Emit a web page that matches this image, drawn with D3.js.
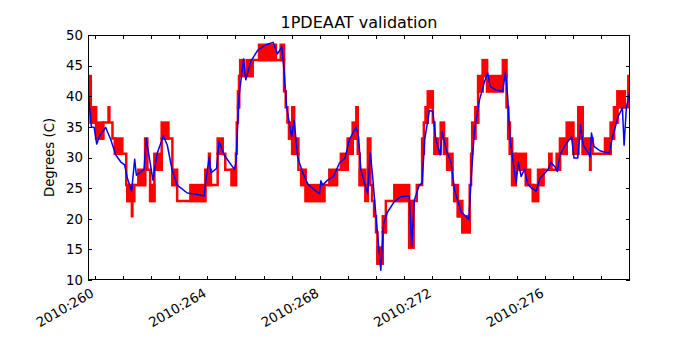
<!DOCTYPE html>
<html>
<head>
<meta charset="utf-8">
<script src="https://cdn.jsdelivr.net/npm/d3@7"></script>
<style>
  body { margin: 0; background: #fff; }
  text { font-family: "DejaVu Sans", sans-serif; }
</style>
</head>
<body>
<div id="chartDiv"></div>
<script>
// ---- data ----
const xDomain = [259.76, 279.03];          // day of year 2010
const yTicks = [10, 15, 20, 25, 30, 35, 40, 45, 50];
const xTickDays = [260,261,262,263,264,265,266,267,268,269,270,271,272,273,274,275,276,277,278];
const xLabelDays = [260, 264, 268, 272, 276];

// model prediction (blue)
const blueDay = [259.76,259.88,259.98,260.07,260.19,260.39,260.57,260.75,260.92,261.06,261.16,261.31,261.42,261.48,261.69,261.75,261.83,262.07,262.22,262.44,262.58,262.75,262.93,263.29,263.60,263.89,263.93,264.07,264.13,264.33,264.42,264.60,264.96,265.02,265.13,265.29,265.37,265.55,265.79,266.08,266.34,266.50,266.65,266.73,266.82,267.00,267.09,267.21,267.38,267.57,267.81,267.99,268.04,268.10,268.28,268.49,268.70,268.90,269.05,269.29,269.38,269.46,269.70,269.80,269.88,270.00,270.17,270.27,270.41,270.65,270.88,271.18,271.27,271.36,271.54,271.64,271.73,271.90,272.02,272.12,272.28,272.35,272.50,272.67,272.79,273.03,273.30,273.38,273.50,273.68,273.86,273.97,274.06,274.27,274.50,274.60,274.68,274.77,274.98,275.06,275.16,275.28,275.39,275.53,275.69,275.83,276.13,276.21,276.36,276.45,276.54,276.72,276.95,277.04,277.17,277.27,277.37,277.55,277.61,277.66,277.75,277.96,278.29,278.41,278.61,278.76,278.82,278.90,279.03];
const blueDeg = [41.0,35.0,34.9,32.2,33.7,34.9,32.9,30.4,29.3,28.8,26.6,24.5,29.7,27.1,27.8,28.0,33.1,26.3,30.7,33.5,32.0,28.0,25.5,24.2,24.0,23.7,25.5,30.1,27.5,28.2,32.6,30.4,28.1,29.1,40.0,46.1,42.7,45.7,47.5,48.4,48.8,46.9,48.1,44.3,38.3,33.4,36.1,30.1,27.7,25.7,24.7,24.1,26.2,25.5,26.3,26.9,29.1,29.9,32.9,35.0,33.4,28.0,24.1,30.7,26.9,20.3,11.6,19.2,21.1,22.8,23.6,23.7,15.4,23.0,25.5,25.8,32.9,37.7,37.5,33.1,30.4,34.2,31.2,29.1,24.7,21.1,19.9,26.3,34.5,39.4,42.4,43.8,41.6,41.0,40.8,43.9,40.0,32.9,25.8,29.3,26.9,28.1,25.7,25.0,24.5,26.6,28.1,29.2,28.5,27.7,30.4,32.0,33.4,29.9,29.9,35.3,32.0,30.7,30.1,34.0,31.8,31.1,30.7,33.4,36.7,38.1,32.0,38.1,41.0];

// telemetry (red): [start day, low level, high level] - high > low where the value flickers
const redSteps = [
  [259.76,38.2,43.3],[259.86,35.7,38.2],[260.05,33.1,35.7],[260.30,35.7],[260.49,38.2],[260.52,35.7],
  [260.63,33.1],[260.72,30.6,33.1],[260.98,30.6],[261.12,25.5],[261.16,22.9,25.5],[261.32,20.4],
  [261.34,22.9,25.5],[261.40,25.5],[261.55,25.5,28.0],[261.79,28.0,33.1],[261.87,28.0],[261.97,22.9,25.5],
  [262.12,28.0,30.6],[262.38,33.1,35.7],[262.62,33.1],[262.76,25.5,28.0],[262.93,22.9],[263.40,22.9,25.5],
  [263.93,25.5,28.0],[264.06,30.6],[264.09,25.5,28.0],[264.13,25.5],[264.37,30.6,33.1],[264.55,30.6],
  [264.64,28.0],[264.87,25.5,28.0],[265.02,30.6],[265.05,35.7],[265.09,38.2,40.8],[265.13,43.3],
  [265.17,43.3,45.9],[265.30,43.3],[265.40,43.3,45.9],[265.61,45.9],[265.84,45.9,48.4],[266.44,45.9],
  [266.61,45.9,48.4],[266.73,40.8],[266.79,38.2],[266.85,35.7],[266.91,33.1,35.7],[267.02,30.6,38.2],
  [267.09,30.6,33.1],[267.24,28.0],[267.34,25.5,28.0],[267.50,22.9,25.5],[268.16,25.5],[268.34,25.5,28.0],
  [268.61,28.0],[268.75,28.0,30.6],[268.99,30.6,33.1],[269.17,33.1,35.7],[269.30,38.2],[269.35,30.6],
  [269.42,25.5,28.0],[269.62,22.9],[269.71,33.1],[269.80,25.5],[269.86,22.9],[269.93,20.4],[270.00,17.8],
  [270.05,12.7,15.3],[270.24,17.8,20.4],[270.35,22.9],[270.65,22.9,25.5],[271.18,15.3,22.9],[271.33,22.9],
  [271.45,25.5],[271.64,30.6,33.1],[271.70,35.7],[271.76,35.7,38.2],[271.84,38.2,40.8],[272.02,35.7],
  [272.08,30.6,33.1],[272.20,30.6],[272.30,33.1,35.7],[272.42,30.6,33.1],[272.53,28.0,30.6],[272.72,25.5],
  [272.78,22.9,25.5],[272.91,20.4,22.9],[273.07,17.8,20.4],[273.33,25.5],[273.38,30.6],[273.42,33.1,35.7],
  [273.53,35.7,38.2],[273.63,40.8,43.3],[273.79,43.3,45.9],[273.95,40.8,43.3],[274.51,43.3,45.9],[274.64,38.2],
  [274.70,33.1,35.7],[274.76,30.6,33.1],[274.84,25.5,30.6],[274.97,28.0,30.6],[275.33,25.5,28.0],[275.48,25.5],
  [275.58,22.9,25.5],[275.76,25.5,28.0],[275.95,28.0],[276.16,28.0,30.6],[276.24,28.0],[276.42,28.0,30.6],
  [276.54,30.6,33.1],[276.78,33.1,35.7],[277.02,30.6,33.1],[277.19,33.1,38.2],[277.35,30.6,33.1],[277.61,28.0],
  [277.63,30.6],[277.64,33.1],[277.70,30.6],[278.14,30.6,33.1],[278.34,33.1,35.7],[278.46,35.7,38.2],
  [278.58,38.2,40.8],[278.85,38.2],[278.97,43.3]
];

const margin = { left: 88, right: 70, top: 35, bottom: 70 };
const W = 700, H = 350;

function makeSVG(parDivID){
	const svg = d3.select('#' + parDivID).append('svg')
		.attr('width', W)
		.attr('height', H);
	return svg;
}

function buildChart(){
	const svg = makeSVG('chartDiv');
	const plotW = W - margin.left - margin.right;
	const plotH = H - margin.top - margin.bottom;

	const x = d3.scaleLinear().domain(xDomain).range([margin.left, margin.left + plotW]);
	const y = d3.scaleLinear().domain([10, 50]).range([margin.top + plotH, margin.top]);

	svg.append('clipPath').attr('id', 'plotClip')
		.append('rect')
		.attr('x', margin.left).attr('y', margin.top)
		.attr('width', plotW).attr('height', plotH);

	const plotG = svg.append('g').attr('clip-path', 'url(#plotClip)');

	// red telemetry: step line through low levels + filled flicker bands
	const segs = redSteps.map((d, i) => ({
		t0: d[0],
		t1: i < redSteps.length - 1 ? redSteps[i + 1][0] : xDomain[1],
		lo: d[1],
		hi: d.length > 2 ? d[2] : d[1]
	}));
	const stepPts = segs.map(s => [s.t0, s.lo]);
	stepPts.push([xDomain[1], segs[segs.length - 1].lo]);

	plotG.append('path')
		.datum(stepPts)
		.attr('fill', 'none')
		.attr('stroke', '#ff0000')
		.attr('stroke-width', 2.5)
		.attr('d', d3.line().curve(d3.curveStepAfter).x(d => x(d[0])).y(d => y(d[1])));

	plotG.selectAll('rect.band')
		.data(segs.filter(s => s.hi > s.lo))
		.enter()
		.append('rect')
		.attr('class', 'band')
		.attr('x', s => x(s.t0))
		.attr('width', s => x(s.t1) - x(s.t0))
		.attr('y', s => y(s.hi))
		.attr('height', s => y(s.lo) - y(s.hi))
		.attr('fill', '#ff0000')
		.attr('stroke', '#ff0000')
		.attr('stroke-width', 2.5);

	// blue model
	plotG.append('path')
		.datum(blueDay.map((d, i) => [d, blueDeg[i]]))
		.attr('fill', 'none')
		.attr('stroke', '#0000ff')
		.attr('stroke-width', 1.5)
		.attr('stroke-linejoin', 'round')
		.attr('d', d3.line().x(d => x(d[0])).y(d => y(d[1])));

	// frame
	svg.append('rect')
		.attr('x', margin.left + 0.5).attr('y', margin.top + 0.5)
		.attr('width', plotW - 1).attr('height', plotH - 1)
		.attr('fill', 'none').attr('stroke', '#000').attr('stroke-width', 1);

	const tickG = svg.append('g').attr('stroke', '#000').attr('stroke-width', 1);
	const yBot = margin.top + plotH, yTop = margin.top;
	xTickDays.forEach(d => {
		const px = Math.round(x(d)) + 0.5;
		tickG.append('line').attr('x1', px).attr('x2', px).attr('y1', yBot).attr('y2', yBot - 4);
		tickG.append('line').attr('x1', px).attr('x2', px).attr('y1', yTop).attr('y2', yTop + 4);
	});
	const xL = margin.left, xR = margin.left + plotW;
	yTicks.forEach(v => {
		const py = Math.round(y(v)) + 0.5;
		tickG.append('line').attr('x1', xL).attr('x2', xL + 4).attr('y1', py).attr('y2', py);
		tickG.append('line').attr('x1', xR).attr('x2', xR - 4).attr('y1', py).attr('y2', py);
	});

	// y tick labels
	svg.selectAll('text.ylab')
		.data(yTicks)
		.enter()
		.append('text')
		.attr('class', 'ylab')
		.attr('x', margin.left - 5)
		.attr('y', v => y(v))
		.attr('dy', '0.36em')
		.attr('text-anchor', 'end')
		.style('font-size', '13.3px')
		.text(v => v);

	// x tick labels, rotated like autofmt_xdate
	svg.selectAll('text.xlab')
		.data(xLabelDays)
		.enter()
		.append('text')
		.attr('class', 'xlab')
		.attr('transform', d => `translate(${x(d) - 5}, ${yBot + 7}) rotate(-30)`)
		.attr('dy', '0.76em')
		.attr('text-anchor', 'end')
		.style('font-size', '13.3px')
		.text(d => '2010:' + d3.format('03d')(d));

	svg.append('text')
		.attr('x', margin.left + plotW / 2)
		.attr('y', 28)
		.attr('text-anchor', 'middle')
		.style('font-size', '16px')
		.text('1PDEAAT validation');

	svg.append('text')
		.attr('transform', `translate(54, ${margin.top + plotH / 2}) rotate(-90)`)
		.attr('text-anchor', 'middle')
		.style('font-size', '13.3px')
		.text('Degrees (C)');
}

buildChart();
</script>
</body>
</html>
